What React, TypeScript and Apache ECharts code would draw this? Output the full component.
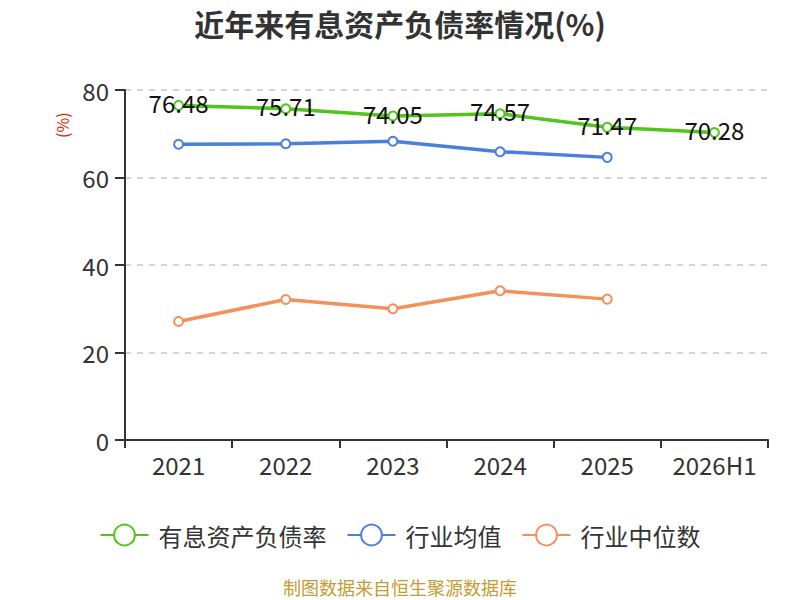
import React, { useEffect, useRef } from "react";
import * as echarts from "echarts";

const categories = ["2021", "2022", "2023", "2024", "2025", "2026H1"];
const debtRatio = [76.48, 75.71, 74.05, 74.57, 71.47, 70.28];
const industryAvg = [67.6, 67.7, 68.3, 65.9, 64.6, null];
const industryMedian = [27.1, 32.1, 30.0, 34.1, 32.2, null];
const seriesNames = ["有息资产负债率", "行业均值", "行业中位数"];
const colors = ["#52c41a", "#4a7fdc", "#f5905a"];

const FONT = "'Noto Sans CJK SC', 'Noto Sans', sans-serif";

export default function App() {
  const ref = useRef<HTMLDivElement>(null);
  useEffect(() => {
    document.body.style.margin = "0";
    if (!ref.current) return;
    const chart = echarts.init(ref.current, undefined, { renderer: "svg" });
    const mk = (i: number, data: (number | null)[], withLabel: boolean) => ({
      name: seriesNames[i],
      type: "line",
      data,
      symbol: "emptyCircle",
      symbolSize: 9,
      lineStyle: { color: colors[i], width: 3.5 },
      itemStyle: { color: colors[i], borderWidth: 1.5 },
      label: withLabel
        ? {
            show: true,
            position: "inside",
            offset: [0, -3],
            fontSize: 24,
            color: "#111",
            fontFamily: FONT,
          }
        : { show: false },
      z: 3 - i,
    });
    chart.setOption({
      animation: false,
      textStyle: { fontFamily: FONT },
      title: {
        text: "近年来有息资产负债率情况(%)",
        left: "center",
        top: 3,
        textStyle: { fontSize: 30, fontWeight: "bold", color: "#333", fontFamily: FONT },
      },
      grid: { left: 125, right: 32, top: 90, bottom: 160 },
      legend: {
        data: seriesNames,
        left: "center",
        top: 518,
        itemWidth: 48,
        itemHeight: 26,
        itemGap: 20,
        textStyle: { fontSize: 24, color: "#333", fontFamily: FONT, padding: [0, 0, 0, 5] },
      },
      xAxis: {
        type: "category",
        data: categories,
        boundaryGap: true,
        axisLine: { lineStyle: { color: "#333", width: 2 } },
        axisTick: { show: true, length: 8, lineStyle: { color: "#333", width: 2 } },
        axisLabel: { interval: 0, fontSize: 24, color: "#333", margin: 12, fontFamily: FONT },
      },
      yAxis: {
        type: "value",
        min: 0,
        max: 80,
        interval: 20,
        axisLine: { show: true, lineStyle: { color: "#333", width: 2 } },
        axisTick: { show: true, length: 10, lineStyle: { color: "#333", width: 2 } },
        axisLabel: { fontSize: 24, color: "#333", margin: 16, fontFamily: FONT },
        splitLine: { lineStyle: { color: "#c8c8c8", type: [6, 6], width: 1.5 } },
      },
      graphic: [
        {
          type: "text",
          x: 54,
          y: 138,
          rotation: Math.PI / 2,
          style: {
            text: "(%)",
            fontSize: 16,
            fill: "#d81e06",
            fontFamily: FONT,
          },
        },
        {
          type: "text",
          left: "center",
          top: 578,
          style: {
            text: "制图数据来自恒生聚源数据库",
            fontSize: 18,
            fill: "#c49b35",
            fontFamily: FONT,
          },
        },
      ],
      series: [
        mk(0, debtRatio, true),
        mk(1, industryAvg, false),
        mk(2, industryMedian, false),
      ],
    });
    return () => chart.dispose();
  }, []);
  return <div ref={ref} style={{ width: 800, height: 600 }} />;
}
